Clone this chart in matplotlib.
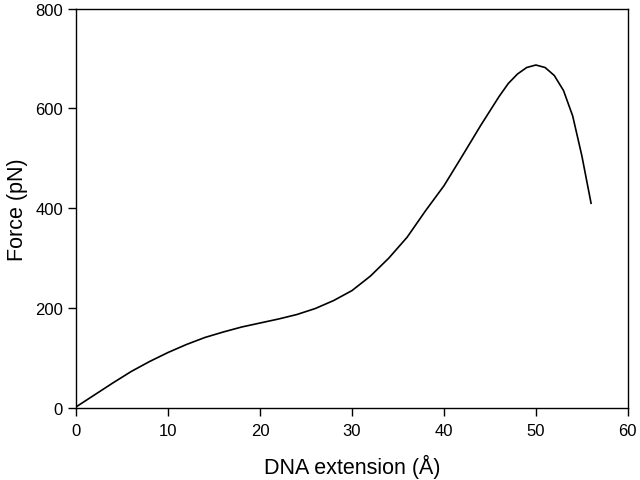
import matplotlib
matplotlib.use("Agg")
import matplotlib.pyplot as plt

plt.rcParams["font.family"] = ["Liberation Sans", "DejaVu Sans"]

# DNA extension (Angstrom) and force (pN)
extension = [0, 2, 4, 6, 8, 10, 12, 14, 16, 18, 20, 22, 24, 26, 28, 30,
             32, 34, 36, 38, 40, 42, 44, 46, 47, 48, 49, 50, 51, 52, 53, 54, 55, 56]
force = [2, 26, 50, 73, 93, 111, 127, 141, 152, 162, 170, 178, 187, 199, 215, 235,
         264, 300, 342, 395, 445, 505, 566, 624, 650, 669, 682, 687, 682, 666, 636, 585, 505, 410]

xticks = [0, 10, 20, 30, 40, 50, 60]
yticks = [0, 200, 400, 600, 800]

fig = plt.figure(figsize=(6.4, 4.81), dpi=100)
ax = fig.add_axes([0.119, 0.15, 0.862, 0.83])

ax.plot(extension, force, color="black", linewidth=1.2)

ax.set_xlim(0, 60)
ax.set_ylim(0, 800)
ax.set_xticks(xticks)
ax.set_yticks(yticks)
ax.tick_params(axis="both", direction="out", length=6, width=1,
               labelsize=12, top=False, right=False)
ax.tick_params(axis="x", pad=5)
for spine in ax.spines.values():
    spine.set_linewidth(1)

ax.set_xlabel("DNA extension (Å)", fontsize=15.5, labelpad=11)
ax.set_ylabel("Force (pN)", fontsize=15.5, labelpad=5)

plt.savefig("out.png", dpi=100)
